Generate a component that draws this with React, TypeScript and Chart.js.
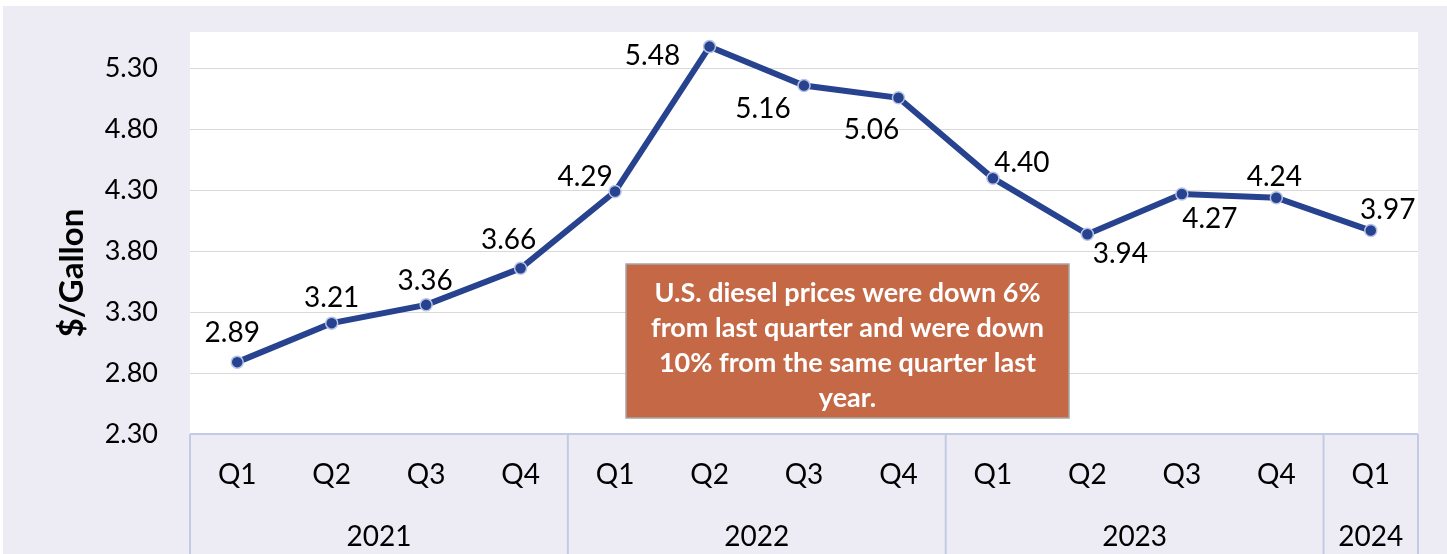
import React, { useEffect, useRef } from "react";
import { Chart, registerables } from "chart.js";

Chart.register(...registerables);

// ---- Data ----
const quarters = ["Q1", "Q2", "Q3", "Q4", "Q1", "Q2", "Q3", "Q4", "Q1", "Q2", "Q3", "Q4", "Q1"];
const yearLabels = ["2021", "2022", "2023", "2024"];
const yearSpans = [4, 4, 4, 1];
const prices = [2.89, 3.21, 3.36, 3.66, 4.29, 5.48, 5.16, 5.06, 4.4, 3.94, 4.27, 4.24, 3.97];
const yTicks = [2.3, 2.8, 3.3, 3.8, 4.3, 4.8, 5.3];
const yMin = 2.3;
const yMax = 5.6;
const yTitle = "$/Gallon";
const noteLines = [
  "U.S. diesel prices were down 6%",
  "from last quarter and were down",
  "10% from the same quarter last",
  "year.",
];

// ---- Styles ----
const FONT = "Lato, 'Noto Sans', sans-serif";
const LINE_BLUE = "#27428F";
const POINT_BORDER = "#B7C3E6";
const BG_LAVENDER = "#EDECF5";
const AXIS_LINE = "#C3CBE4";
const GRID = "#D9D9D9";
const NOTE_FILL = "#C56846";
const NOTE_BORDER = "#A6A6A6";
// label offset (dx, dy) relative to each point
const labelOffsets: [number, number][] = [
  [-5, -29], [0, -25], [-1, -24], [-12, -28], [-30, -15], [-57, 9],
  [-41, 23], [-27, 32], [29, -15], [33, 20], [28, 25], [-2, -21], [17, -21],
];

const categories = quarters.map((q, i) => {
  let acc = 0;
  for (let g = 0; g < yearSpans.length; g++) {
    acc += yearSpans[g];
    if (i < acc) return `${q} ${yearLabels[g]}`;
  }
  return q;
});

const decorPlugin = {
  id: "decor",
  beforeDraw(chart: any) {
    const { ctx, width, height, chartArea } = chart;
    ctx.save();
    ctx.fillStyle = "#FFFFFF";
    ctx.fillRect(0, 0, width, height);
    ctx.fillStyle = BG_LAVENDER;
    ctx.fillRect(3, 6, width - 3, height - 6);
    ctx.fillStyle = "#FFFFFF";
    ctx.fillRect(chartArea.left, chartArea.top, chartArea.right - chartArea.left, chartArea.bottom - chartArea.top);
    ctx.restore();
  },
  afterDraw(chart: any) {
    const { ctx, height, chartArea } = chart;
    const xs = chart.scales.x;
    const n = quarters.length;
    ctx.save();
    // axis area lines
    ctx.strokeStyle = AXIS_LINE;
    ctx.lineWidth = 2;
    ctx.beginPath();
    ctx.moveTo(chartArea.left, chartArea.bottom);
    ctx.lineTo(chartArea.right, chartArea.bottom);
    let idx = 0;
    const bounds: number[] = [chartArea.left];
    for (const s of yearSpans) {
      idx += s;
      bounds.push(idx >= n ? chartArea.right : (xs.getPixelForValue(idx - 1) + xs.getPixelForValue(idx)) / 2);
    }
    for (const b of bounds) {
      ctx.moveTo(b, chartArea.bottom);
      ctx.lineTo(b, height);
    }
    ctx.stroke();

    // quarter labels
    ctx.fillStyle = "#000";
    ctx.font = `28px ${FONT}`;
    ctx.textAlign = "center";
    ctx.textBaseline = "middle";
    quarters.forEach((q, i) => {
      ctx.fillText(q, xs.getPixelForValue(i), chartArea.bottom + 41);
    });
    // year labels
    yearLabels.forEach((y, g) => {
      const cx = (bounds[g] + bounds[g + 1]) / 2;
      ctx.fillText(y, cx, chartArea.bottom + 103);
    });

    // y axis title
    ctx.save();
    ctx.translate(72, (chartArea.top + chartArea.bottom) / 2 + 40);
    ctx.rotate(-Math.PI / 2);
    ctx.font = `bold 33px ${FONT}`;
    ctx.fillText(yTitle, 0, 0);
    ctx.restore();

    // note box
    const bx = 626, by = 264, bw = 443, bh = 154;
    ctx.fillStyle = NOTE_FILL;
    ctx.fillRect(bx, by, bw, bh);
    ctx.strokeStyle = NOTE_BORDER;
    ctx.lineWidth = 1.5;
    ctx.strokeRect(bx, by, bw, bh);
    ctx.fillStyle = "#FFFFFF";
    ctx.font = `bold 27px ${FONT}`;
    noteLines.forEach((l, i) => {
      ctx.fillText(l, bx + bw / 2, by + 29 + i * 35);
    });
    ctx.restore();
  },
  afterDatasetsDraw(chart: any) {
    const { ctx } = chart;
    const meta = chart.getDatasetMeta(0);
    ctx.save();
    ctx.fillStyle = "#000";
    ctx.font = `28px ${FONT}`;
    ctx.textAlign = "center";
    ctx.textBaseline = "middle";
    meta.data.forEach((pt: any, i: number) => {
      const [dx, dy] = labelOffsets[i];
      ctx.fillText(prices[i].toFixed(2), pt.x + dx, pt.y + dy);
    });
    ctx.restore();
  },
};

export default function App() {
  const ref = useRef<HTMLCanvasElement | null>(null);
  useEffect(() => {
    let chart: Chart | null = null;
    let cancelled = false;
    const make = () => {
      if (cancelled || !ref.current) return;
      chart = new Chart(ref.current, {
        type: "line",
        data: {
          labels: categories,
          datasets: [
            {
              data: prices,
              borderColor: LINE_BLUE,
              borderWidth: 6,
              pointRadius: 6,
              pointBackgroundColor: LINE_BLUE,
              pointBorderColor: POINT_BORDER,
              pointBorderWidth: 1.5,
              tension: 0,
            },
          ],
        },
        options: {
          animation: false,
          responsive: true,
          maintainAspectRatio: false,
          layout: { padding: { left: 0, top: 32, right: 29, bottom: 0 } },
          plugins: { legend: { display: false }, tooltip: { enabled: false }, title: { display: false } },
          scales: {
            x: {
              type: "category",
              offset: true,
              grid: { display: false },
              border: { display: false },
              ticks: { display: false },
              afterFit: (s: any) => {
                s.height = 120;
                s.paddingLeft = 0;
                s.paddingRight = 0;
                s.paddingTop = 0;
                s.paddingBottom = 0;
              },
            },
            y: {
              min: yMin,
              max: yMax,
              border: { display: false },
              grid: {
                drawTicks: false,
                color: (c: any) => (c.tick && c.tick.value === yMin ? "rgba(0,0,0,0)" : GRID),
                lineWidth: 1,
              },
              afterBuildTicks: (s: any) => {
                s.ticks = yTicks.map((v) => ({ value: v }));
              },
              ticks: {
                padding: 32,
                color: "#000",
                font: { family: FONT, size: 27 },
                callback: (v: any) => Number(v).toFixed(2),
              },
              afterFit: (s: any) => {
                s.width = 190;
                s.paddingTop = 0;
                s.paddingBottom = 0;
                s.paddingLeft = 0;
                s.paddingRight = 0;
              },
            },
          },
        },
        plugins: [decorPlugin],
      } as any);
    };
    const fonts: any = (document as any).fonts;
    if (fonts && fonts.load) {
      Promise.all([fonts.load(`27px Lato`), fonts.load(`bold 27px Lato`)]).then(make, make);
    } else make();
    return () => {
      cancelled = true;
      if (chart) chart.destroy();
    };
  }, []);
  return (
    <div style={{ position: "absolute", left: 0, top: 0, width: 1447, height: 554 }}>
      <canvas ref={ref} />
    </div>
  );
}
